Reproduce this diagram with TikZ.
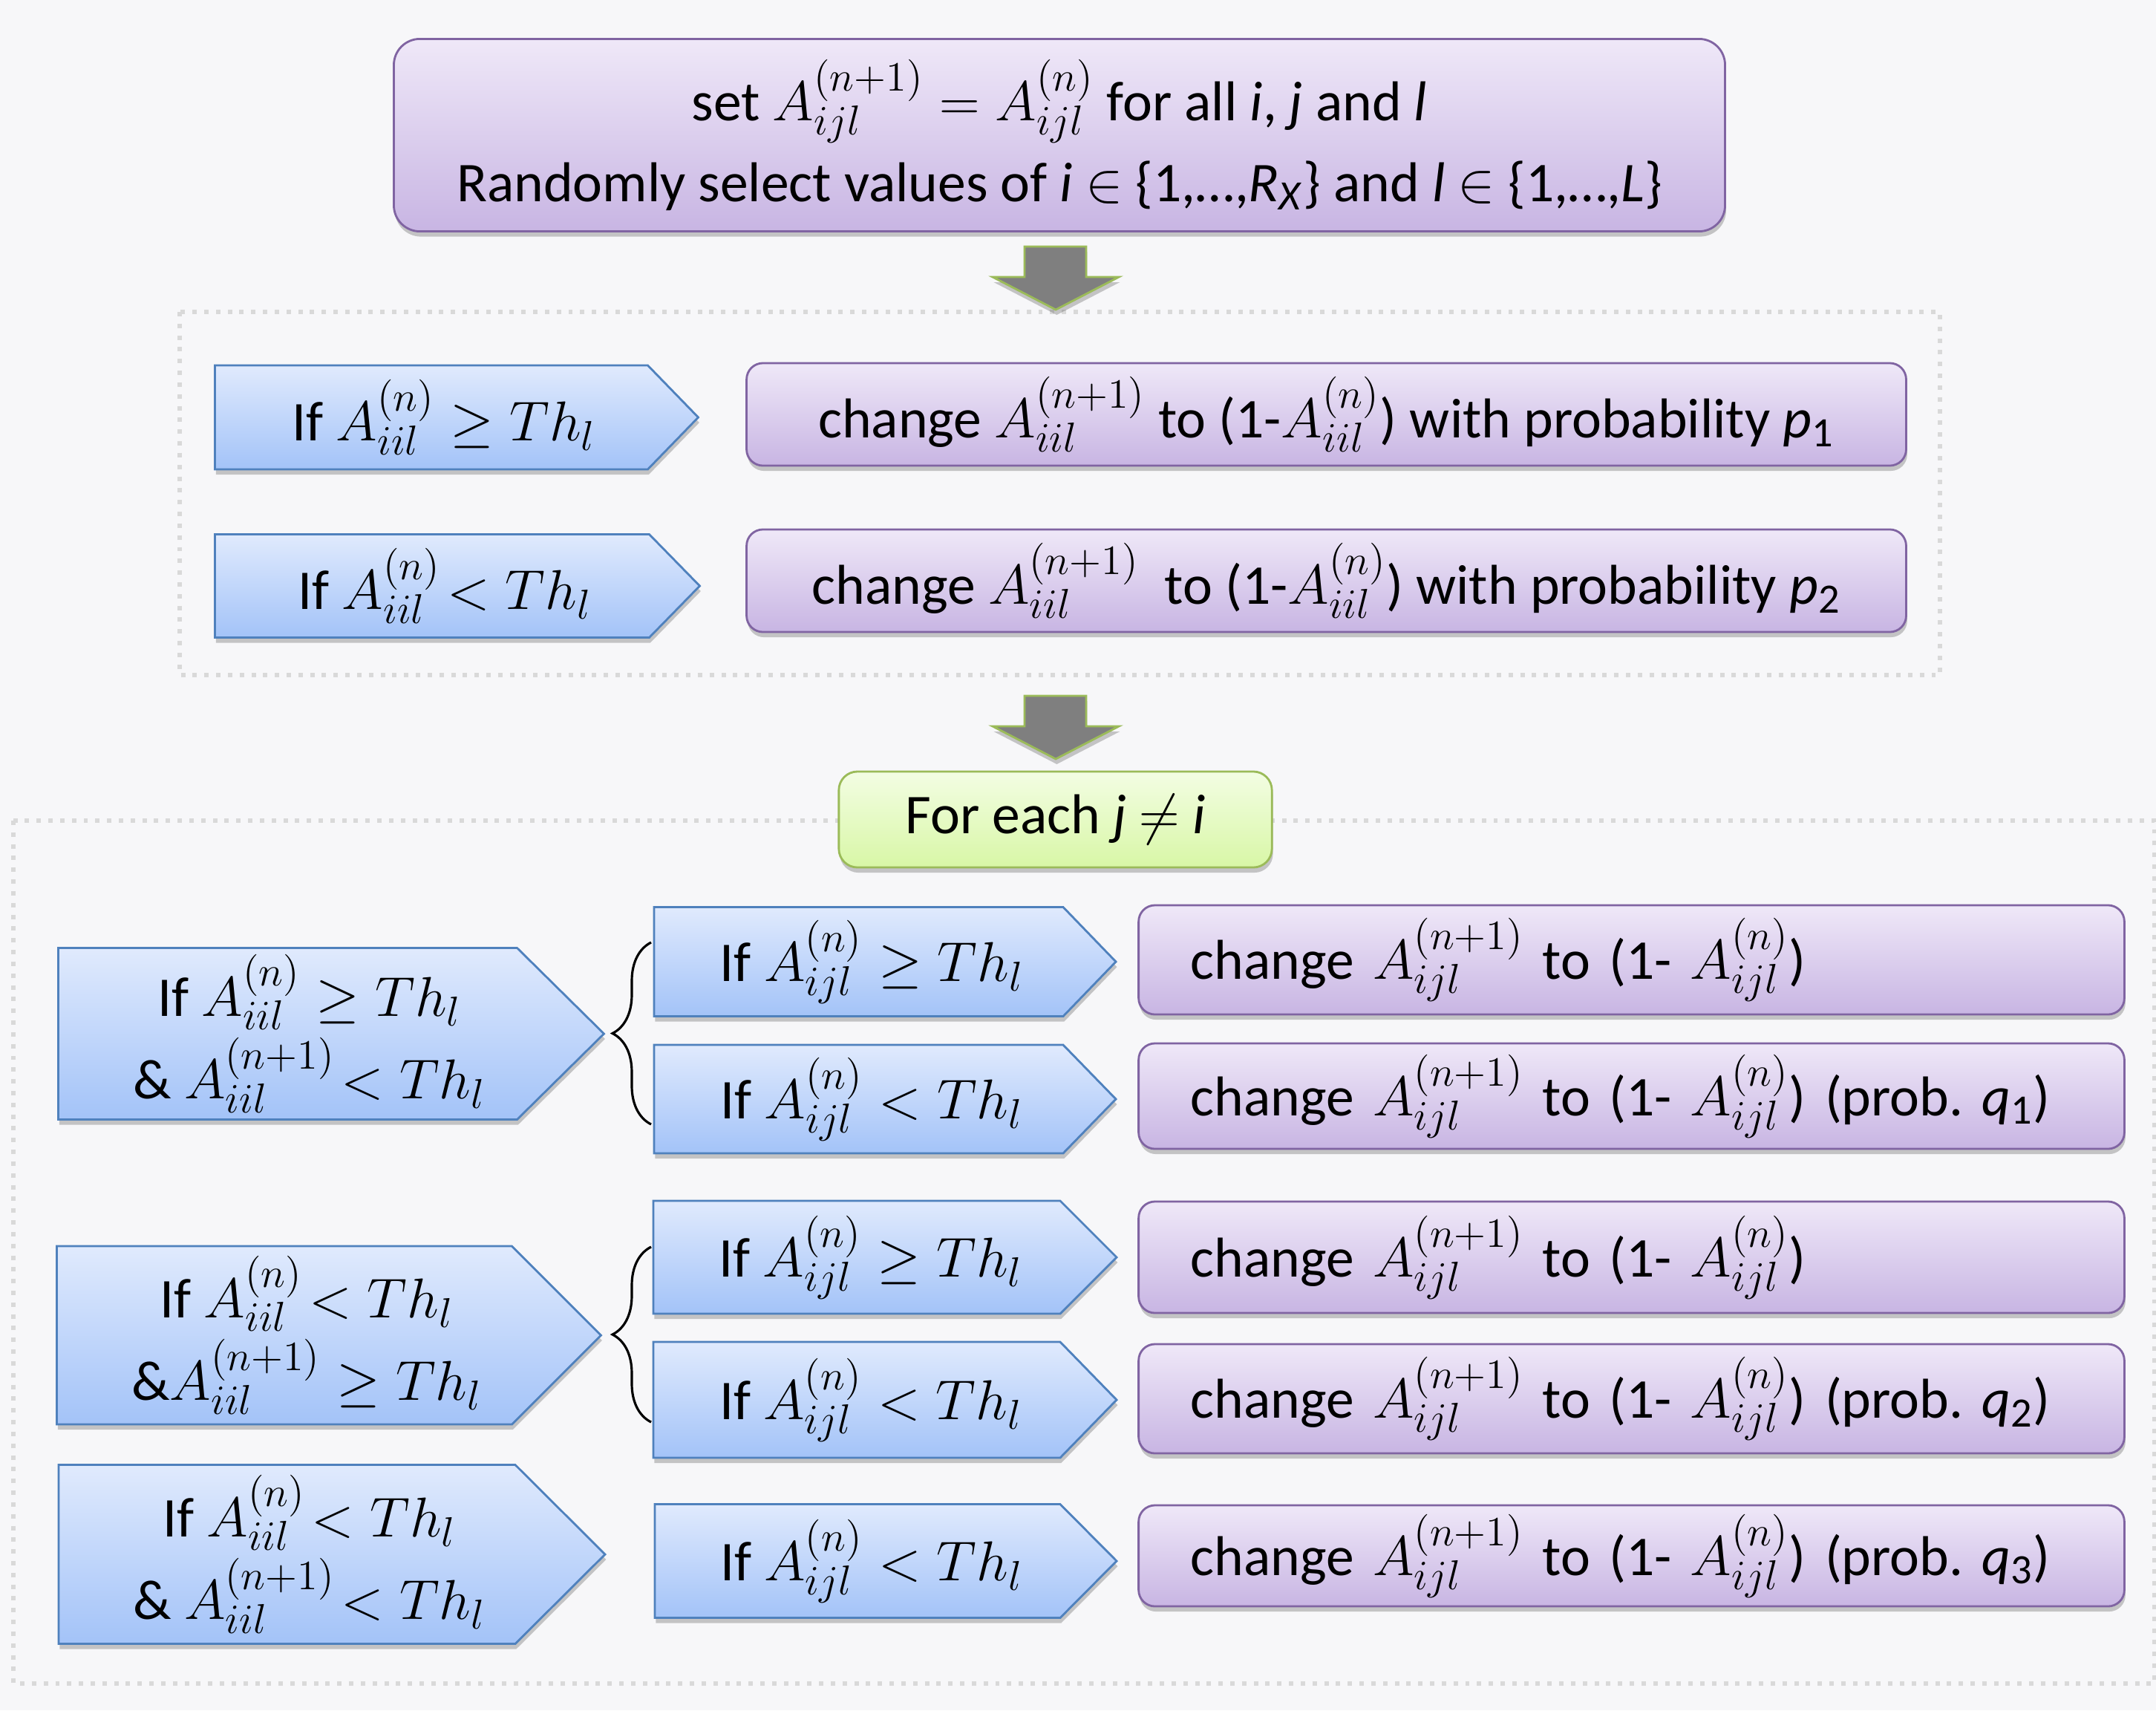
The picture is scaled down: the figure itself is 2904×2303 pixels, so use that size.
\RequirePackage{fix-cm}
\documentclass[tikz,border=0pt]{standalone}
\usepackage{fontspec}
\setmainfont{Carlito}
\DeclareMathSizes{21.5}{21.5}{16}{12}
\frenchspacing
\definecolor{Bgcol}{HTML}{F7F7F9}
\definecolor{Dotcol}{HTML}{D9D9D9}
\definecolor{Btop}{HTML}{E0EAFD}
\definecolor{Bbot}{HTML}{A3C3F8}
\definecolor{Bline}{HTML}{4F81BD}
\definecolor{Ptop}{HTML}{EFE8F8}
\definecolor{Pbot}{HTML}{C8B5E3}
\definecolor{Pline}{HTML}{8064A2}
\definecolor{Gtop}{HTML}{F3FDE3}
\definecolor{Gbot}{HTML}{D8F7A6}
\definecolor{Gline}{HTML}{9BBB59}
\definecolor{Arrcol}{HTML}{7F7F7F}
\usetikzlibrary{shadows, decorations.pathreplacing}
\tikzset{
    every node/.style={font=\fontsize{21.5}{27}\selectfont},
    softshadow/.style={drop shadow={shadow xshift=0.4pt, shadow yshift=-2pt, opacity=0.3, fill=black!70}},
    condshape/.style={draw=Bline, line width=0.8pt, top color=Btop, bottom color=Bbot, softshadow},
    condtext/.style={align=center, inner sep=0pt},
    changebox/.style={draw=Pline, line width=0.8pt, rounded corners=0.22cm, top color=Ptop, bottom color=Pbot,
        softshadow, inner ysep=0pt, align=center},
    changeleft/.style={changebox, minimum width=13.27cm, text width=11.87cm, inner xsep=0.7cm, align=left},
    dotframe/.style={Dotcol, line width=1.7pt, dash pattern=on 1.7pt off 2.8pt},
    blockarrow/.style={fill=Arrcol, draw=Gline, line width=0.8pt, softshadow},
    bracket/.style={decorate, decoration={brace, amplitude=0.52cm, aspect=0.5}, line width=0.9pt}
}
% pentagon shaped condition box: name, cx, cy, width, height, tip, text
\newcommand{\condbox}[7]{%
    \draw[condshape] ({#2-#4/2},{#3-#5/2}) -- ({#2+#4/2-#6},{#3-#5/2}) -- ({#2+#4/2},#3)
        -- ({#2+#4/2-#6},{#3+#5/2}) -- ({#2-#4/2},{#3+#5/2}) -- cycle;
    \node[condtext] (#1) at ({#2-#6/4},#3) {#7};
}

\begin{document}
\begin{tikzpicture}[x=0.01cm, y=-0.01cm]
    % Page
    \fill[Bgcol] (0,0) rectangle (2904,2303);
    \useasboundingbox (0,0) rectangle (2904,2303);

    % Dotted frames
    \draw[dotframe] (242,420) rectangle (2613,909);
    \draw[dotframe] (18,1105) rectangle (2902,2267);

    % Initial step
    \node[changebox, rounded corners=0.35cm, minimum width=17.92cm, minimum height=2.59cm] (init) at (1427,182)
        {set $A_{ijl}^{(n+1)} = A_{ijl}^{(n)}$ for all \textit{i}, \textit{j} and \textit{l}\\[4pt]
         Randomly select values of \textit{i} $\in$ \{1,\textellipsis,\textit{R}\textsubscript{\textit{X}}\} and \textit{l} $\in$ \{1,\textellipsis,\textit{L}\}};

    % Block arrows
    \foreach \ay in {332,937}
        \draw[blockarrow] (1380,\ay) -- (1463,\ay) -- (1463,\ay+41) -- (1507,\ay+41) -- (1422,\ay+85)
            -- (1337,\ay+41) -- (1380,\ay+41) -- cycle;

    % Self-connection step
    \condbox{selfGe}{615}{562}{651}{140}{68}{If $A_{iil}^{(n)} \geq Th_l$}
    \condbox{selfLt}{616}{789}{653}{139}{68}{If $A_{iil}^{(n)}\!< Th_l$}
    \node[changebox, minimum width=15.61cm, minimum height=1.38cm] (flipP1) at (1786.5,558)
        {change $A_{iil}^{(n+1)}$ to (1-$A_{iil}^{(n)}$) with probability \textit{p}\textsubscript{1}};
    \node[changebox, minimum width=15.61cm, minimum height=1.38cm] (flipP2) at (1786.5,782)
        {change $A_{iil}^{(n+1)}$\ \ to (1-$A_{iil}^{(n)}$) with probability \textit{p}\textsubscript{2}};

    % Loop over j
    \node[changebox, draw=Gline, top color=Gtop, bottom color=Gbot, rounded corners=0.25cm,
        minimum width=5.83cm, minimum height=1.29cm] (each) at (1421.5,1103.5) {For each \textit{j} $\neq$ \textit{i}};

    % Cross-connection groups
    \condbox{grpA}{446}{1392}{735}{231}{117}{If $A_{iil}^{(n)} \geq Th_l$\\[2pt] \& $A_{iil}^{(n+1)}\!< Th_l$}
    \condbox{grpB}{443}{1798}{733}{240}{120}{If $A_{iil}^{(n)}\!< Th_l$\\[2pt] \&$A_{iil}^{(n+1)} \geq Th_l$}
    \condbox{grpC}{447}{2093}{736}{241}{121}{If $A_{iil}^{(n)}\!< Th_l$\\[2pt] \& $A_{iil}^{(n+1)}\!< Th_l$}

    \condbox{ifA}{1192}{1295}{622}{147}{71}{If $A_{ijl}^{(n)} \geq Th_l$}
    \condbox{ifB}{1192}{1480}{622}{146}{71}{If $A_{ijl}^{(n)} < Th_l$}
    \condbox{ifC}{1192}{1693}{624}{152}{76}{If $A_{ijl}^{(n)} \geq Th_l$}
    \condbox{ifD}{1192}{1885}{624}{156}{76}{If $A_{ijl}^{(n)} < Th_l$}
    \condbox{ifE}{1193}{2102}{622}{153}{76}{If $A_{ijl}^{(n)} < Th_l$}

    \node[changeleft, minimum height=1.47cm] (flipA) at (2197.5,1292.5)
        {change $A_{ijl}^{(n+1)}$ to (1- $A_{ijl}^{(n)}$)};
    \node[changeleft, minimum height=1.42cm] (flipB) at (2197.5,1476)
        {change $A_{ijl}^{(n+1)}$ to (1- $A_{ijl}^{(n)}$) (prob. \textit{q}\textsubscript{1})};
    \node[changeleft, minimum height=1.50cm] (flipC) at (2197.5,1693)
        {change $A_{ijl}^{(n+1)}$ to (1- $A_{ijl}^{(n)}$)};
    \node[changeleft, minimum height=1.47cm] (flipD) at (2197.5,1883.5)
        {change $A_{ijl}^{(n+1)}$ to (1- $A_{ijl}^{(n)}$) (prob. \textit{q}\textsubscript{2})};
    \node[changeleft, minimum height=1.36cm] (flipE) at (2197.5,2095)
        {change $A_{ijl}^{(n+1)}$ to (1- $A_{ijl}^{(n)}$) (prob. \textit{q}\textsubscript{3})};

    % Braces
    \coordinate (braceA1) at (877,1514);
    \coordinate (braceA2) at (877,1269);
    \coordinate (braceB1) at (877,1915);
    \coordinate (braceB2) at (877,1679);
    \draw[bracket] (braceA1) -- (braceA2);
    \draw[bracket] (braceB1) -- (braceB2);
\end{tikzpicture}
\end{document}
